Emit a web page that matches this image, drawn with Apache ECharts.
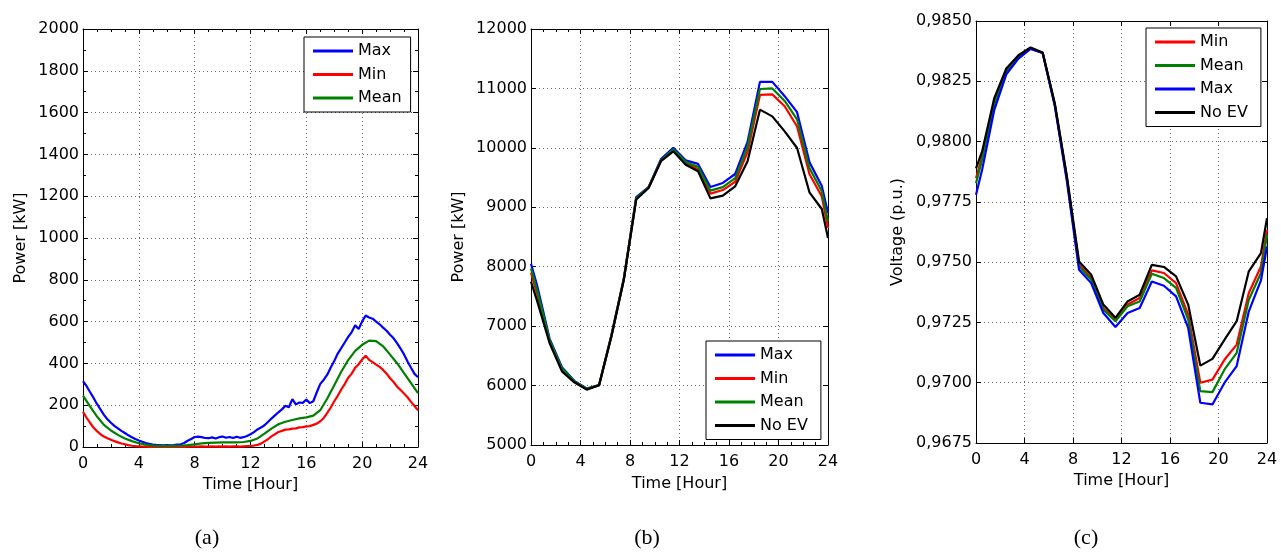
<!DOCTYPE html>
<html>
<head>
<meta charset="utf-8">
<script src="https://cdn.jsdelivr.net/npm/echarts@6/dist/echarts.min.js"></script>
<style>
html,body{margin:0;padding:0;background:#fff;}
#c{width:1281px;height:552px;}
</style>
</head>
<body>
<div id="c"></div>
<script>
// ---------- Panel (a): EV charging power ----------
var hoursA = [0,0.25,0.5,0.75,1,1.25,1.5,1.75,2,2.25,2.5,2.75,3,3.25,3.5,3.75,4,4.25,4.5,4.75,5,5.25,5.5,5.75,6,6.25,6.5,6.75,7,7.25,7.5,7.75,8,8.25,8.5,8.75,9,9.25,9.5,9.75,10,10.25,10.5,10.75,11,11.25,11.5,11.75,12,12.25,12.5,12.75,13,13.25,13.5,13.75,14,14.25,14.5,14.75,15,15.25,15.5,15.75,16,16.25,16.5,16.75,17,17.25,17.5,17.75,18,18.25,18.5,18.75,19,19.25,19.5,19.75,20,20.25,20.5,20.75,21,21.25,21.5,21.75,22,22.25,22.5,22.75,23,23.25,23.5,23.75,24];
var maxA = [315,292,263,236,206,180,154,133,116,101,89,77,67,56,47,38,31,25,19,15,12,10,9,8,9,8,9,11,13,19,30,38,48,50,47,43,42,46,41,47,50,44,48,43,49,44,47,53,61,71,84,93,104,120,136,151,166,180,197,190,229,204,213,211,227,210,219,262,302,322,346,380,411,447,473,500,527,550,582,565,601,629,620,614,600,587,571,556,537,520,497,471,443,409,379,350,334];
var minA = [168,141,116,93,76,61,50,42,35,28,22,17,13,9,6,4,3,2,2,1,1,1,1,1,1,1,1,1,1,1,2,2,2,2,3,2,2,3,2,3,2,3,2,3,3,2,3,4,5,7,10,16,27,37,51,61,72,77,83,84,88,89,94,95,99,100,106,112,123,139,163,189,219,245,275,301,331,351,379,396,419,437,417,406,394,383,369,351,329,311,289,273,256,238,216,196,175];
var hoursAMean = [0,0.5,1,1.5,2,2.5,3,3.5,4,4.5,5,5.5,6,6.5,7,7.5,8,8.5,9,9.5,10,10.5,11,11.5,12,12.5,13,13.5,14,14.5,15,15.5,16,16.5,17,17.5,18,18.5,19,19.5,20,20.5,21,21.5,22,22.5,23,23.5,24];
var meanA = [246,194,146,106,79,58,41,28,18,11,7,5,5,5,6,9,13,17,20,21,22,22,22,24,29,41,64,88,109,121,129,137,142,150,176,232,296,360,416,460,489,509,507,482,442,401,354,306,258];

// ---------- Panel (b): total feeder power ----------
var hoursB = [0,0.5,1.5,2.5,3.5,4.5,5.5,6.5,7.5,8.5,9.5,10.5,11.5,12.5,13.5,14.5,15.5,16.5,17.5,18.5,19.5,20.5,21.5,22.5,23.5,24];
var maxB  = [8050,7680,6790,6310,6080,5950,6010,6850,7800,9170,9340,9810,10000,9790,9730,9340,9410,9560,10100,11110,11110,10870,10600,9760,9360,8900];
var minB  = [7900,7540,6740,6270,6065,5940,6005,6835,7785,9140,9330,9780,9960,9740,9640,9230,9290,9430,9930,10890,10900,10700,10360,9560,9180,8650];
var meanB = [7970,7600,6765,6290,6070,5945,6008,6840,7790,9150,9335,9790,9975,9760,9680,9280,9340,9490,10020,10990,11000,10790,10480,9660,9270,8760];
var noevB = [7750,7420,6717,6240,6055,5932,6005,6830,7780,9130,9325,9775,9942,9717,9605,9150,9196,9353,9775,10643,10530,10278,9998,9252,8971,8484];

// ---------- Panel (c): voltage ----------
var hoursC = [0,0.5,1.5,2.5,3.5,4.5,5.5,6.5,7.5,8.5,9.5,10.5,11.5,12.5,13.5,14.5,15.5,16.5,17.5,18.5,19.5,20.5,21.5,22.5,23.5,24];
var minC  = [0.97848,0.97937,0.98165,0.98293,0.98354,0.98388,0.98367,0.98155,0.97848,0.97489,0.97434,0.97310,0.97259,0.97324,0.97351,0.97466,0.97455,0.97413,0.97282,0.97000,0.97013,0.97096,0.97158,0.97372,0.97482,0.97634];
var meanC = [0.97827,0.97924,0.98155,0.98289,0.98351,0.98386,0.98367,0.98152,0.97844,0.97482,0.97427,0.97303,0.97255,0.97317,0.97337,0.97452,0.97434,0.97393,0.97262,0.96965,0.96961,0.97055,0.97124,0.97344,0.97455,0.97613];
var maxC  = [0.97779,0.97882,0.98130,0.98279,0.98344,0.98384,0.98367,0.98147,0.97834,0.97468,0.97413,0.97289,0.97231,0.97289,0.97310,0.97420,0.97402,0.97358,0.97227,0.96917,0.96910,0.97000,0.97069,0.97296,0.97424,0.97565];
var noevC = [0.97889,0.97958,0.98179,0.98303,0.98358,0.98390,0.98369,0.98158,0.97855,0.97503,0.97448,0.97324,0.97269,0.97337,0.97365,0.97489,0.97480,0.97441,0.97324,0.97071,0.97099,0.97179,0.97255,0.97462,0.97537,0.97682];

var captions = ['(a)','(b)','(c)'];
var yNames = ['Power [kW]','Power [kW]','Voltage (p.u.)'];
var xName = 'Time [Hour]';

var FONT = 'DejaVu Sans';
var BLUE = '#0000ff', RED = '#ff0000', GREEN = '#008000', BLACK = '#000000';

function pairs(xs, ys){ var out=[]; for(var i=0;i<xs.length;i++){ out.push([xs[i], ys[i]]); } return out; }

var grids = [
  {left:83, top:29, width:335, height:418},
  {left:531, top:29, width:297, height:416},
  {left:976, top:21, width:291, height:422}
];

var yCfg = [
  {min:0, max:2000, interval:200, fmt:function(v){return String(v);}, nameGap:54, minor:true},
  {min:5000, max:12000, interval:1000, fmt:function(v){return String(v);}, nameGap:64, minor:false},
  {min:0.9675, max:0.985, interval:0.0025, fmt:function(v){return v.toFixed(4).replace('.',',');}, nameGap:70, minor:false}
];
var xMinor = [true, true, false];
var xNameGap = [30, 31, 30];

var xAxes = [], yAxes = [];
var gridLine = {show:true, lineStyle:{color:'#666', type:[1,3], width:1}};
for (var p=0;p<3;p++){
  xAxes.push({
    type:'value', gridIndex:p, min:0, max:24, interval:4, position:'bottom',
    name:xName, nameLocation:'middle', nameGap:xNameGap[p],
    nameTextStyle:{fontFamily:FONT, fontSize:16, color:'#000'},
    axisLine:{show:true, onZero:false, lineStyle:{color:'#000', width:1}},
    axisTick:{show:true, inside:true, length:5, lineStyle:{color:'#000'}},
    minorTick:{show:xMinor[p], splitNumber:4, length:3, lineStyle:{color:'#000'}},
    axisLabel:{fontFamily:FONT, fontSize:16, color:'#000', margin:9},
    splitLine:gridLine
  });
  xAxes.push({
    type:'value', gridIndex:p, min:0, max:24, interval:4, position:'top',
    axisLine:{show:true, onZero:false, lineStyle:{color:'#000', width:1}},
    axisTick:{show:true, inside:true, length:5, lineStyle:{color:'#000'}},
    minorTick:{show:xMinor[p], splitNumber:4, length:3, lineStyle:{color:'#000'}},
    axisLabel:{show:false}, splitLine:{show:false}
  });
  var yc = yCfg[p];
  yAxes.push({
    type:'value', gridIndex:p, min:yc.min, max:yc.max, interval:yc.interval, position:'left',
    name:yNames[p], nameLocation:'middle', nameGap:yc.nameGap,
    nameTextStyle:{fontFamily:FONT, fontSize:16, color:'#000'},
    axisLine:{show:true, onZero:false, lineStyle:{color:'#000', width:1}},
    axisTick:{show:true, inside:true, length:5, lineStyle:{color:'#000'}},
    minorTick:{show:yc.minor, splitNumber:2, length:3, lineStyle:{color:'#000'}},
    axisLabel:{fontFamily:FONT, fontSize:16, color:'#000', margin:4, formatter:yc.fmt},
    splitLine:gridLine
  });
  yAxes.push({
    type:'value', gridIndex:p, min:yc.min, max:yc.max, interval:yc.interval, position:'right',
    axisLine:{show:true, onZero:false, lineStyle:{color:'#000', width:1}},
    axisTick:{show:true, inside:true, length:5, lineStyle:{color:'#000'}},
    minorTick:{show:yc.minor, splitNumber:2, length:3, lineStyle:{color:'#000'}},
    axisLabel:{show:false}, splitLine:{show:false}
  });
}

function line(name, color, xs, ys, p){
  return {
    type:'line', name:name, xAxisIndex:2*p, yAxisIndex:2*p,
    data:pairs(xs, ys), showSymbol:false, symbol:'none',
    lineStyle:{color:color, width:2.2}, itemStyle:{color:color},
    animation:false, silent:true
  };
}

var series = [
  line('Max', BLUE, hoursA, maxA, 0),
  line('Min', RED, hoursA, minA, 0),
  line('Mean', GREEN, hoursAMean, meanA, 0),
  line('Max', BLUE, hoursB, maxB, 1),
  line('Min', RED, hoursB, minB, 1),
  line('Mean', GREEN, hoursB, meanB, 1),
  line('No EV', BLACK, hoursB, noevB, 1),
  line('Min', RED, hoursC, minC, 2),
  line('Mean', GREEN, hoursC, meanC, 2),
  line('Max', BLUE, hoursC, maxC, 2),
  line('No EV', BLACK, hoursC, noevC, 2)
];

function legend(names, left, top, padR){
  return {
    data:names, orient:'vertical', left:left, top:top,
    icon:'rect', itemWidth:40, itemHeight:3, itemGap:5.5,
    padding:[5, padR, 5, 9],
    backgroundColor:'#fff', borderColor:'#000', borderWidth:1,
    textStyle:{fontFamily:FONT, fontSize:16, color:'#000', lineHeight:18},
    selectedMode:false
  };
}

var capStyle = {fontFamily:'Liberation Serif', fontSize:22, fontWeight:'normal', color:'#000'};
var option = {
  backgroundColor:'#fff',
  animation:false,
  title:[
    {text:captions[0], left:207, top:527, textAlign:'center', padding:0, textStyle:capStyle},
    {text:captions[1], left:647, top:527, textAlign:'center', padding:0, textStyle:capStyle},
    {text:captions[2], left:1086, top:527, textAlign:'center', padding:0, textStyle:capStyle}
  ],
  grid:grids,
  xAxis:xAxes,
  yAxis:yAxes,
  legend:[
    legend(['Max','Min','Mean'], 304, 37, 9),
    legend(['Max','Min','Mean','No EV'], 706, 341, 13),
    legend(['Min','Mean','Max','No EV'], 1146, 28, 13)
  ],
  series:series
};

var chart = echarts.init(document.getElementById('c'), null, {renderer:'canvas'});
chart.setOption(option);
</script>
</body>
</html>
